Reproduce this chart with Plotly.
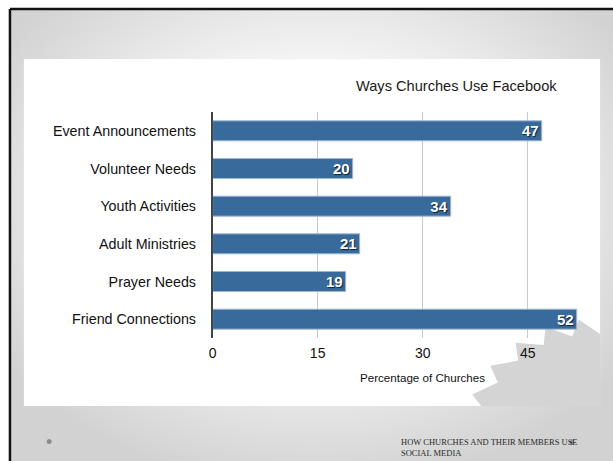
import base64, math
import plotly.graph_objects as go

categories = ["Event Announcements", "Volunteer Needs", "Youth Activities",
              "Adult Ministries", "Prayer Needs", "Friend Connections"]
values = [47, 20, 34, 21, 19, 52]
tick_vals = [0, 15, 30, 45]
tick_text = ["0", "15", "30", "45"]
title_text = "Ways Churches Use Facebook"
x_title = "Percentage of Churches"
footer_lines = ["HOW CHURCHES AND THEIR MEMBERS USE", "SOCIAL MEDIA"]

W, H = 613, 461
def px(x): return x / W
def py(y): return 1 - y / H

FONT = "Liberation Sans, Arial, sans-serif"

# decorative background (gradient slide, white chart panel, saw-blade graphic)
cx, cy, R, r = 590, 450, 131, 115
pts = []
n = 24
for k in range(n):
    a = math.radians(-95 + 15 * k)
    b = math.radians(-95 + 15 * k + 11)
    pts.append((cx + R * math.cos(a), cy + R * math.sin(a)))
    pts.append((cx + r * math.cos(b), cy + r * math.sin(b)))
star = " ".join(f"{x:.1f},{y:.1f}" for x, y in pts)
svg = f'''<svg xmlns="http://www.w3.org/2000/svg" width="{W}" height="{H}" viewBox="0 0 {W} {H}">
<defs>
<radialGradient id="g" cx="0.5" cy="0.42" r="0.62">
<stop offset="0" stop-color="#ffffff"/>
<stop offset="0.45" stop-color="#f7f7f7"/>
<stop offset="1" stop-color="#d2d2d2"/>
</radialGradient>
<clipPath id="c"><rect x="20" y="59" width="580" height="347"/></clipPath>
</defs>
<rect x="0" y="0" width="{W}" height="{H}" fill="#ffffff"/>
<rect x="6" y="9" width="{W}" height="{H}" fill="url(#g)"/>
<rect x="20" y="59" width="580" height="347" fill="#ffffff"/>
<polygon points="{star}" fill="#d4d4d4" clip-path="url(#c)"/>
</svg>'''
src = "data:image/svg+xml;base64," + base64.b64encode(svg.encode()).decode()

fig = go.Figure()
fig.add_trace(go.Bar(
    y=categories, x=values, orientation="h",
    marker=dict(color="#386a9c", line=dict(color="#9db7d3", width=1)),
    width=0.53,
    text=[str(v) for v in values], textposition="inside", insidetextanchor="end",
    textangle=0, constraintext="none",
    textfont=dict(family=FONT, size=15, color="white", weight="bold",
                  shadow="1px 1px 1px rgba(0,0,0,0.7)"),
    cliponaxis=False, hoverinfo="skip",
))

fig.update_layout(
    width=W, height=H, margin=dict(l=0, r=0, t=0, b=0),
    paper_bgcolor="rgba(0,0,0,0)", plot_bgcolor="rgba(0,0,0,0)",
    showlegend=False,
    images=[dict(source=src, xref="paper", yref="paper", x=0, y=1, sizex=1, sizey=1,
                 xanchor="left", yanchor="top", sizing="stretch", layer="below")],
    xaxis=dict(domain=[px(210), px(580)], range=[0, 52.5], tickvals=tick_vals, ticktext=tick_text,
               showgrid=True, gridcolor="#c9c9c9", gridwidth=1, zeroline=False, showline=False,
               ticks="", tickfont=dict(family=FONT, size=14, color="#111"),
               ticklabelstandoff=5, fixedrange=True),
    yaxis=dict(domain=[py(338), py(112)], autorange="reversed", showgrid=False, zeroline=False,
               showline=True, linecolor="#444", linewidth=1.5, ticks="",
               tickfont=dict(family=FONT, size=14.3, color="#111"),
               ticklabelstandoff=12, fixedrange=True),
    annotations=[
        dict(text=title_text, xref="paper", yref="paper", x=px(455.5), y=py(86), xanchor="center", yanchor="middle",
             showarrow=False, font=dict(family=FONT, size=14.6, color="#1a1a1a")),
        dict(text=x_title, xref="paper", yref="paper", x=px(421), y=py(377), xanchor="center", yanchor="middle",
             showarrow=False, font=dict(family=FONT, size=11.6, color="#111")),
        dict(text="<br>".join(footer_lines), xref="paper", yref="paper", x=px(398), y=py(435),
             xanchor="left", yanchor="top", align="left", showarrow=False,
             font=dict(family="Liberation Serif, serif", size=8.5, color="#2a2a2a")),
    ],
    shapes=[
        dict(type="line", xref="paper", yref="paper", x0=px(6), x1=1, y0=py(9), y1=py(9),
             line=dict(color="#111", width=2.5)),
        dict(type="line", xref="paper", yref="paper", x0=px(6), x1=px(6), y0=py(9), y1=0,
             line=dict(color="#111", width=2.5)),
        dict(type="circle", xref="paper", yref="paper", x0=px(43), x1=px(48), y0=py(444), y1=py(439),
             fillcolor="#8a8a8a", line=dict(width=0)),
        dict(type="circle", xref="paper", yref="paper", x0=px(569), x1=px(574), y0=py(445), y1=py(440),
             fillcolor="#8a8a8a", line=dict(width=0), layer="above"),
    ],
)

fig.write_html("out.html")
